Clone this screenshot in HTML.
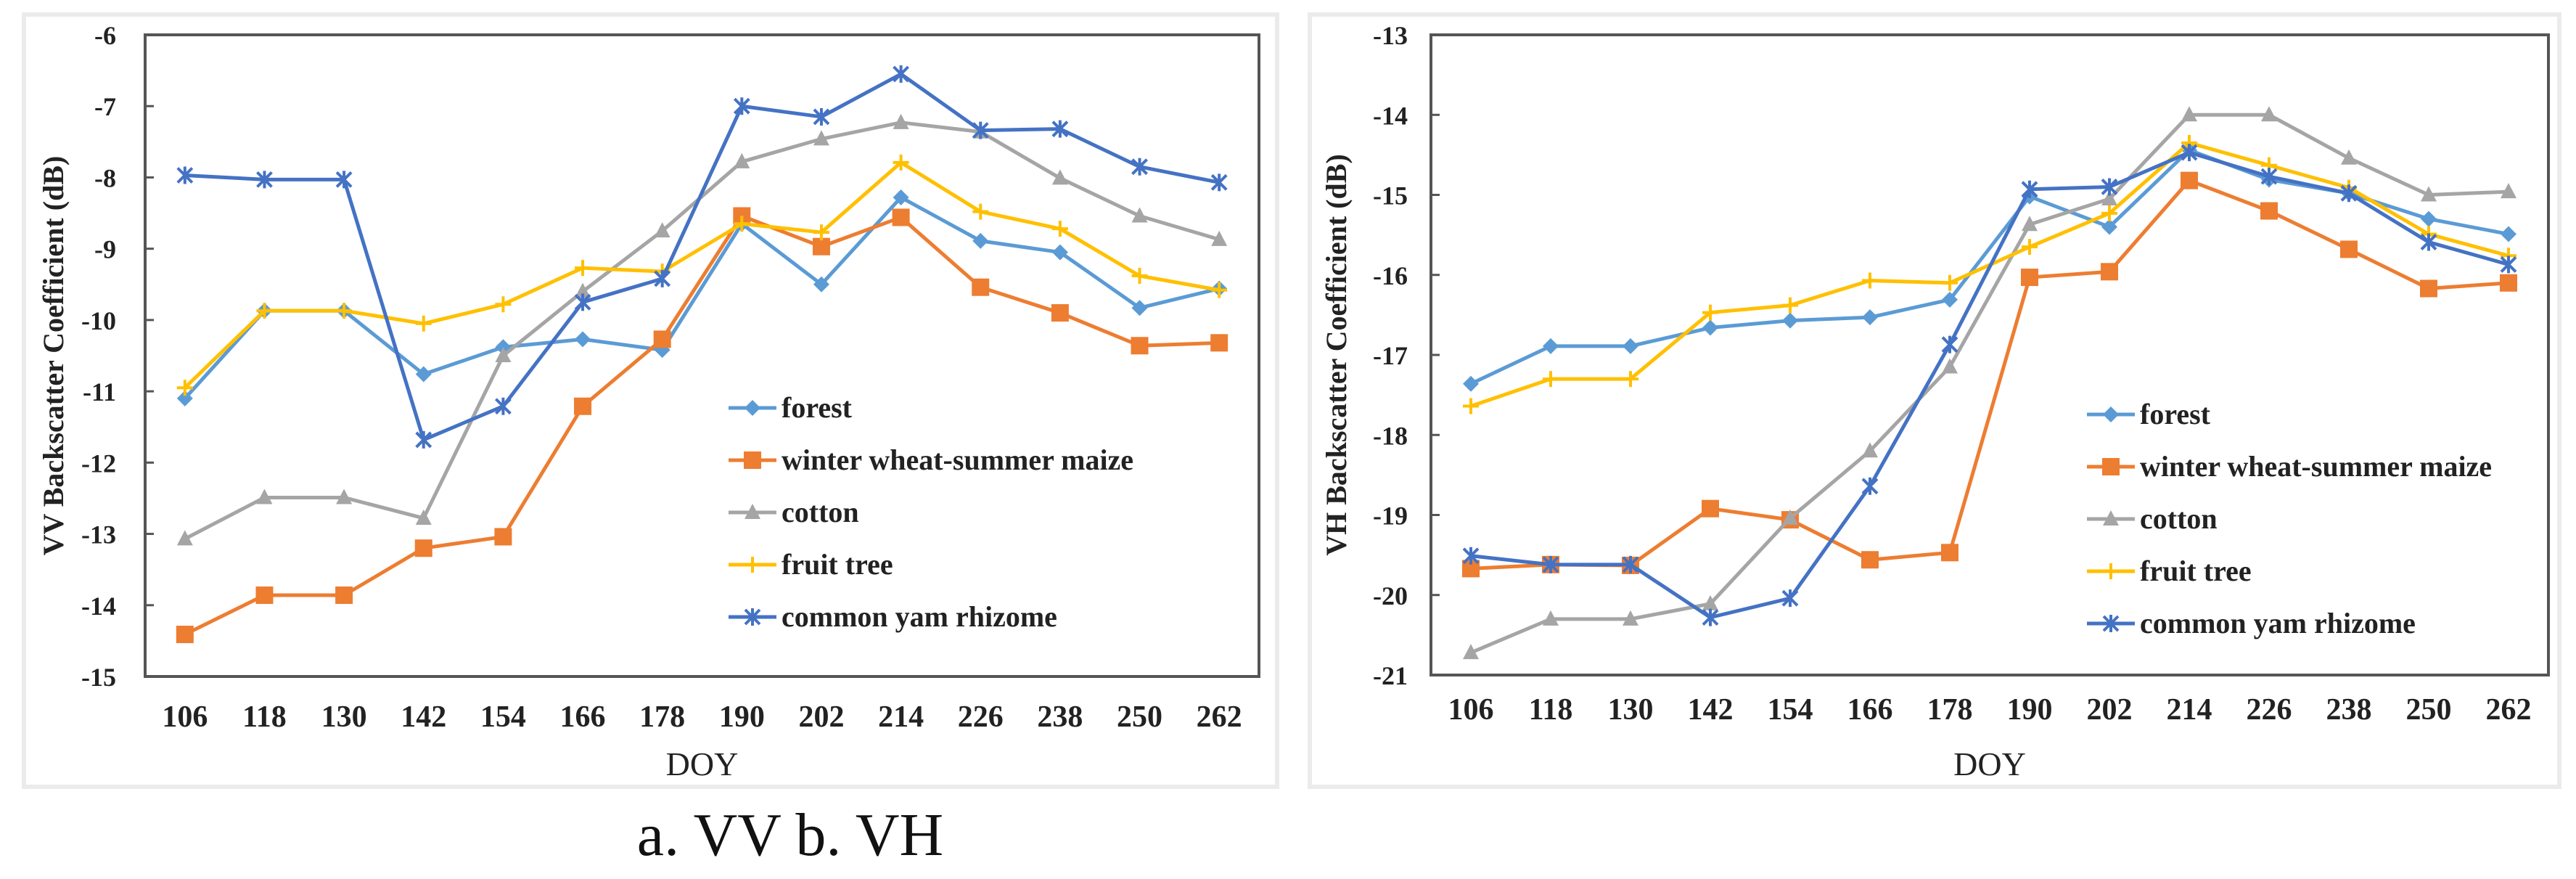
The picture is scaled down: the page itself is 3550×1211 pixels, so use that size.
<!DOCTYPE html>
<html><head><meta charset="utf-8"><style>
html,body{margin:0;padding:0;background:#fff;}
body{width:3550px;height:1211px;overflow:hidden;position:relative;}
svg{position:absolute;left:0;top:0;}
</style></head><body>
<svg id="chart" width="3550" height="1211" xmlns="http://www.w3.org/2000/svg"></svg>
<script>
const categories = ["106","118","130","142","154","166","178","190","202","214","226","238","250","262"];
const seriesNames = ["forest","winter wheat-summer maize","cotton","fruit tree","common yam rhizome"];
const vvForest = [-11.1,-9.87,-9.87,-10.76,-10.38,-10.27,-10.42,-8.65,-9.5,-8.28,-8.89,-9.05,-9.83,-9.56];
const vvWheat = [-14.41,-13.86,-13.86,-13.2,-13.04,-11.21,-10.27,-8.54,-8.97,-8.56,-9.54,-9.9,-10.36,-10.32];
const vvCotton = [-13.07,-12.49,-12.49,-12.78,-10.5,-9.6,-8.75,-7.78,-7.46,-7.23,-7.36,-8.01,-8.54,-8.87];
const vvFruit = [-10.95,-9.87,-9.87,-10.05,-9.78,-9.27,-9.32,-8.65,-8.77,-7.79,-8.48,-8.72,-9.38,-9.58];
const vvYam = [-7.97,-8.03,-8.03,-11.68,-11.21,-9.75,-9.42,-7.0,-7.15,-6.55,-7.34,-7.32,-7.85,-8.07];
const vhForest = [-17.36,-16.89,-16.89,-16.66,-16.57,-16.53,-16.31,-15.02,-15.4,-14.44,-14.81,-14.98,-15.3,-15.49];
const vhWheat = [-19.67,-19.62,-19.63,-18.92,-19.06,-19.56,-19.47,-16.03,-15.96,-14.82,-15.2,-15.68,-16.17,-16.1];
const vhCotton = [-20.72,-20.3,-20.3,-20.11,-19.04,-18.2,-17.15,-15.37,-15.05,-14.0,-14.0,-14.54,-15.0,-14.96];
const vhFruit = [-17.64,-17.3,-17.3,-16.47,-16.38,-16.07,-16.1,-15.65,-15.23,-14.35,-14.63,-14.91,-15.49,-15.76];
const vhYam = [-19.51,-19.62,-19.62,-20.28,-20.04,-18.64,-16.87,-14.93,-14.9,-14.47,-14.77,-14.98,-15.59,-15.87];
const vvTicks = [-6,-7,-8,-9,-10,-11,-12,-13,-14,-15];
const vhTicks = [-13,-14,-15,-16,-17,-18,-19,-20,-21];

const NS="http://www.w3.org/2000/svg";
const svg=document.getElementById('chart');
const colors=["#5B9BD5","#ED7D31","#A5A5A5","#FFC000","#4472C4"];
const markers=["diamond","square","triangle","plus","star"];
function mk(tag,attrs,parent){const e=document.createElementNS(NS,tag);for(const k in attrs)e.setAttribute(k,attrs[k]);(parent||svg).appendChild(e);return e;}

function marker(g,type,x,y,c){
  let m;
  if(type==="diamond"){m=mk('polygon',{points:`${x},${y-11} ${x+11},${y} ${x},${y+11} ${x-11},${y}`,fill:c},g);}
  else if(type==="square"){m=mk('rect',{x:x-12,y:y-12,width:24,height:24,fill:c},g);}
  else if(type==="triangle"){m=mk('polygon',{points:`${x},${y-12} ${x+11},${y+9} ${x-11},${y+9}`,fill:c},g);}
  else if(type==="plus"){m=mk('path',{d:`M${x-11},${y}H${x+11}M${x},${y-11}V${y+11}`,stroke:c,'stroke-width':4},g);}
  else {m=mk('path',{d:`M${x-10},${y-10}L${x+10},${y+10}M${x+10},${y-10}L${x-10},${y+10}M${x},${y-12}V${y+12}`,stroke:c,'stroke-width':4},g);}
  return m;
}

function panel(cfg){
  const g=mk('g',{});
  
  
  const bg=mk('rect',{x:cfg.px,y:20,width:cfg.pw,height:1064,fill:'#fff',stroke:'#ebebeb','stroke-width':6},g);
  
  
  const L=cfg.L,R=cfg.R,T=48,B=cfg.B;
  const ymax=cfg.ticks[0],ymin=cfg.ticks[cfg.ticks.length-1];
  const yS=v=>T+(ymax-v)/(ymax-ymin)*(B-T);
  const step=(R-L)/categories.length;
  const xS=i=>L+step*(i+0.5);
  const frame=mk('rect',{x:L,y:T,width:R-L,height:B-T,fill:'none',stroke:'#555','stroke-width':4},g);
  
  
  cfg.ticks.forEach(t=>{
    const y=yS(t);
    const tk=mk('line',{x1:L,x2:L+12,y1:y,y2:y,stroke:'#555','stroke-width':3},g);
    
    
    const tx=mk('text',{x:cfg.tickX,y:y+13,'text-anchor':'end','font-family':'Liberation Serif, serif','font-weight':'bold','font-size':36,fill:'#222'},g);
    tx.textContent=String(t);
    
    
  });
  categories.forEach((c,i)=>{
    const tx=mk('text',{x:xS(i),y:cfg.xlabY,'text-anchor':'middle','font-family':'Liberation Serif, serif','font-weight':'bold','font-size':42,fill:'#222'},g);
    tx.textContent=c;
    
    
  });
  const xt=mk('text',{x:(L+R)/2,y:1068,'text-anchor':'middle','font-family':'Liberation Serif, serif','font-size':46,fill:'#222'},g);
  xt.textContent='DOY';
  
  
  const cy=(T+B)/2;
  const yt=mk('text',{x:cfg.titleX,y:cy,'text-anchor':'middle','font-family':'Liberation Serif, serif','font-weight':'bold','font-size':40,fill:'#222',transform:`rotate(-90 ${cfg.titleX} ${cy})`,'dominant-baseline':'middle'},g);
  yt.textContent=cfg.title;
  
  
  cfg.series.forEach((vals,si)=>{
    const sg=mk('g',{},g);
    
    
    const pts=vals.map((v,i)=>xS(i)+','+yS(v)).join(' ');
    const pl=mk('polyline',{points:pts,fill:'none',stroke:colors[si],'stroke-width':5,'stroke-linejoin':'round'},sg);
    
    
    vals.forEach((v,i)=>{
      const m=marker(sg,markers[si],xS(i),yS(v),colors[si]);
      
      
    });
  });
  const lg=mk('g',{},g);
  
  
  seriesNames.forEach((n,si)=>{
    const y=cfg.legY+si*72;
    const eg=mk('g',{},lg);
    
    
    mk('line',{x1:cfg.legX,x2:cfg.legX+66,y1:y,y2:y,stroke:colors[si],'stroke-width':5},eg);
    marker(eg,markers[si],cfg.legX+33,y,colors[si]);
    const t=mk('text',{x:cfg.legX+73,y:y+13,'font-family':'Liberation Serif, serif','font-weight':'bold','font-size':40,fill:'#222'},eg);
    t.textContent=n;
  });
}

panel({name:'vv-chart',px:33,pw:1727,L:200,R:1735,B:932,ticks:vvTicks,tickX:160,xlabY:1001,titleX:78,title:'VV Backscatter Coefficient (dB)',
  series:[vvForest,vvWheat,vvCotton,vvFruit,vvYam],legX:1004,legY:562});
panel({name:'vh-chart',px:1805,pw:1722,L:1972,R:3512,B:930,ticks:vhTicks,tickX:1940,xlabY:991,titleX:1846,title:'VH Backscatter Coefficient (dB)',
  series:[vhForest,vhWheat,vhCotton,vhFruit,vhYam],legX:2876,legY:571});

const cap=mk('text',{x:1089,y:1178,'text-anchor':'middle','font-family':'Liberation Serif, serif','font-size':84,fill:'#111'});
cap.textContent='a. VV b. VH';


</script>
</body></html>
